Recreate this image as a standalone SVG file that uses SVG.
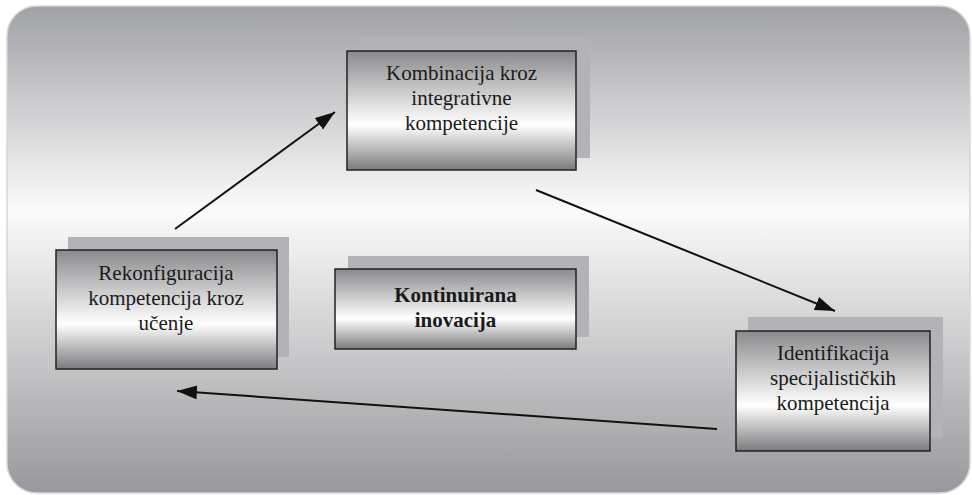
<svg xmlns="http://www.w3.org/2000/svg" width="972" height="495" viewBox="0 0 972 495">
<defs>
<linearGradient id="bg" x1="0" y1="0" x2="0" y2="1">
<stop offset="0" stop-color="#a0a1a5"/>
<stop offset="0.42" stop-color="#fbfbfb"/>
<stop offset="1" stop-color="#98989c"/>
</linearGradient>
<linearGradient id="box" x1="0" y1="0" x2="0" y2="1">
<stop offset="0" stop-color="#8a8a8d"/>
<stop offset="0.62" stop-color="#ffffff"/>
<stop offset="1" stop-color="#7b7b7e"/>
</linearGradient>
<marker id="ah" markerUnits="userSpaceOnUse" markerWidth="24" markerHeight="16" refX="20" refY="7" orient="auto">
<path d="M0,0 L20,7 L0,14 Z" fill="#111"/>
</marker>
<style>
.shadow{fill:#b3b3b7}
.box{fill:url(#box);stroke:#222;stroke-width:1.5}
.t{font-family:"Liberation Serif","Times New Roman",serif;font-size:21px;fill:#1a1a1a;text-anchor:middle}
.b{font-weight:bold}
.conn{stroke:#111;stroke-width:2;fill:none;marker-end:url(#ah)}
</style>
</defs>
<rect x="0" y="0" width="972" height="495" fill="#ffffff"/>
<rect x="7" y="6" width="963" height="487" rx="30" ry="30" fill="url(#bg)" stroke="#d6d6d8" stroke-width="1.5"/>
<g id="connectors">
<line class="conn" x1="175" y1="229" x2="335" y2="112"/>
<line class="conn" x1="536" y1="190" x2="835" y2="311"/>
<line class="conn" x1="717" y1="429" x2="177" y2="391"/>
</g>
<g id="kombinacija">
<rect class="shadow" x="360" y="37" width="230" height="121"/>
<rect class="box" x="347" y="51" width="229" height="119"/>
<text class="t" x="461.5" y="80">Kombinacija kroz</text>
<text class="t" x="461.5" y="105">integrativne</text>
<text class="t" x="461.5" y="130">kompetencije</text>
</g>
<g id="rekonfiguracija">
<rect class="shadow" x="68" y="237" width="221" height="120"/>
<rect class="box" x="56" y="250" width="221" height="119"/>
<text class="t" x="166" y="280">Rekonfiguracija</text>
<text class="t" x="166" y="305">kompetencija kroz</text>
<text class="t" x="166" y="330">učenje</text>
</g>
<g id="kontinuirana">
<rect class="shadow" x="348" y="256" width="241" height="81"/>
<rect class="box" x="335" y="269" width="241" height="80"/>
<text class="t b" x="455.5" y="302">Kontinuirana</text>
<text class="t b" x="455.5" y="327">inovacija</text>
</g>
<g id="identifikacija">
<rect class="shadow" x="748" y="317" width="195" height="121"/>
<rect class="box" x="736" y="331" width="194" height="120"/>
<text class="t" x="833" y="360">Identifikacija</text>
<text class="t" x="833" y="385">specijalističkih</text>
<text class="t" x="833" y="410">kompetencija</text>
</g>
</svg>
